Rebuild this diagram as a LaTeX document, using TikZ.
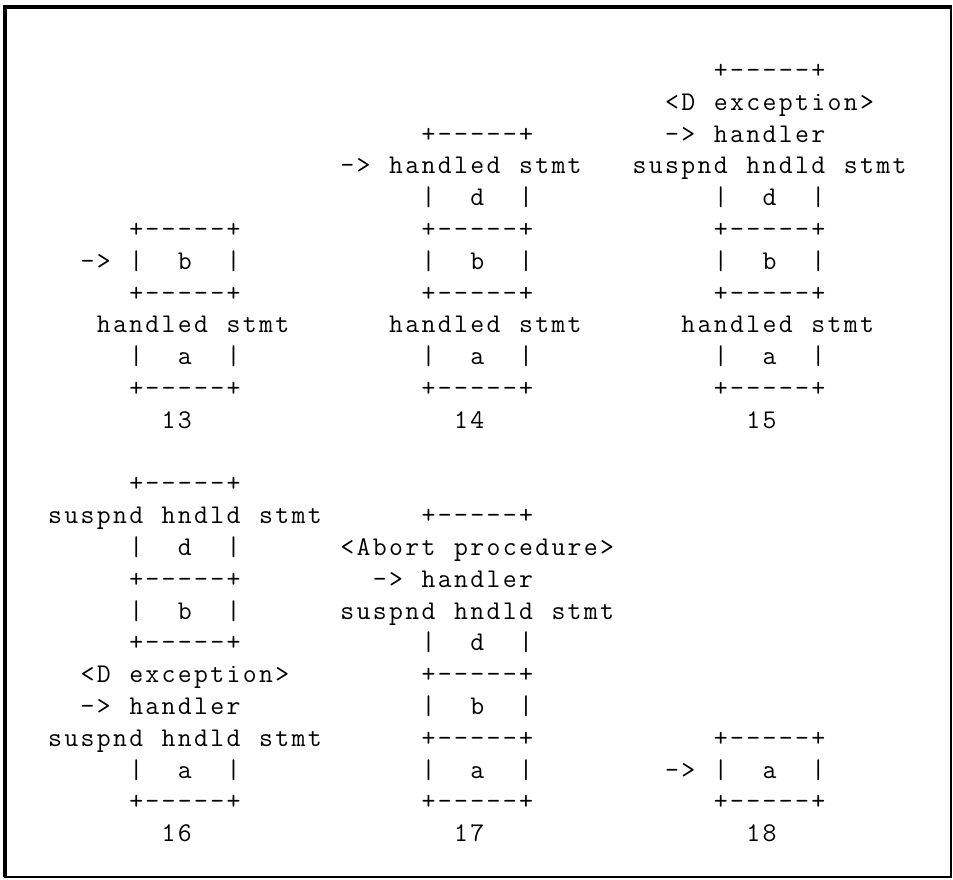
\documentclass[tikz,border=0pt]{standalone}

% fixed character cell, every row sits on the same grid
\newlength\cellw
\setlength\cellw{16.24pt}
\newcommand\cells[1]{\expandafter\onecell#1\relax}
\newcommand\onecell[1]{\ifx\relax#1\else\makebox[\cellw]{#1}\expandafter\onecell\fi}

\tikzset{
  ttrow/.style={font=\ttfamily\fontsize{27}{27}\selectfont, inner sep=0pt, anchor=base west},
}

\begin{document}
\begin{tikzpicture}[x=1pt, y=1pt]
    \useasboundingbox (0,0) rectangle (953,-879);
    \draw[line width=2pt] (4.5,-7) rectangle (951,-877);
    \draw[line width=4pt] (4.5,-877) -- (4.5,-7) -- (952,-7);

    % 13
    \foreach \r/\c/\t in {5/5/+-----+, 6/2/->~|~~b~~|, 7/5/+-----+, 8/3/handled~stmt,
                          9/5/|~~a~~|, 10/5/+-----+, 11/7/13}
        \node[ttrow] (s13-\r) at ({46.7+16.24*\c}, {-78.5-31.8*\r}) {\cells\t};

    % 14
    \foreach \r/\c/\t in {2/23/+-----+, 3/18/->~handled~stmt, 4/23/|~~d~~|, 5/23/+-----+,
                          6/23/|~~b~~|, 7/23/+-----+, 8/21/handled~stmt, 9/23/|~~a~~|,
                          10/23/+-----+, 11/25/14}
        \node[ttrow] (s14-\r) at ({46.7+16.24*\c}, {-78.5-31.8*\r}) {\cells\t};

    % 15
    \foreach \r/\c/\t in {0/41/+-----+, 1/38/<D~exception>, 2/38/->~handler,
                          3/36/suspnd~hndld~stmt, 4/41/|~~d~~|, 5/41/+-----+,
                          6/41/|~~b~~|, 7/41/+-----+, 8/39/handled~stmt, 9/41/|~~a~~|,
                          10/41/+-----+, 11/43/15}
        \node[ttrow] (s15-\r) at ({46.7+16.24*\c}, {-78.5-31.8*\r}) {\cells\t};

    % 16
    \foreach \r/\c/\t in {13/5/+-----+, 14/0/suspnd~hndld~stmt, 15/5/|~~d~~|, 16/5/+-----+,
                          17/5/|~~b~~|, 18/5/+-----+, 19/2/<D~exception>, 20/2/->~handler,
                          21/0/suspnd~hndld~stmt, 22/5/|~~a~~|, 23/5/+-----+, 24/7/16}
        \node[ttrow] (s16-\r) at ({46.7+16.24*\c}, {-78.5-31.8*\r}) {\cells\t};

    % 17
    \foreach \r/\c/\t in {14/23/+-----+, 15/18/<Abort~procedure>, 16/20/->~handler,
                          17/18/suspnd~hndld~stmt, 18/23/|~~d~~|, 19/23/+-----+,
                          20/23/|~~b~~|, 21/23/+-----+, 22/23/|~~a~~|, 23/23/+-----+,
                          24/25/17}
        \node[ttrow] (s17-\r) at ({46.7+16.24*\c}, {-78.5-31.8*\r}) {\cells\t};

    % 18
    \foreach \r/\c/\t in {21/41/+-----+, 22/38/->~|~~a~~|, 23/41/+-----+, 24/43/18}
        \node[ttrow] (s18-\r) at ({46.7+16.24*\c}, {-78.5-31.8*\r}) {\cells\t};
\end{tikzpicture}
\end{document}
